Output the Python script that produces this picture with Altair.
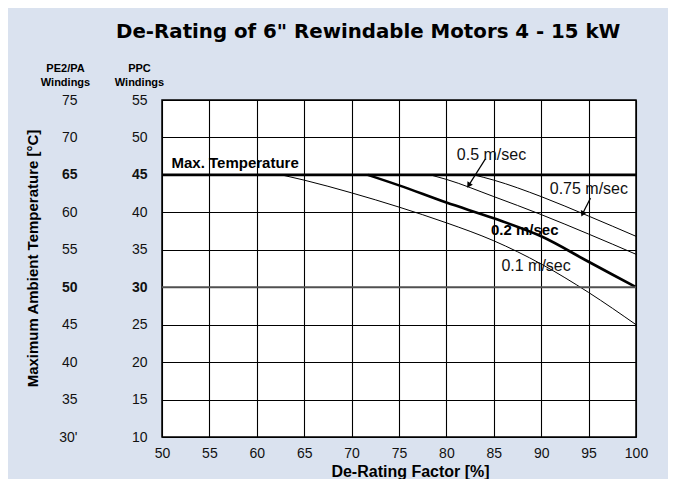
import altair as alt
import pandas as pd

# ---------------- data ----------------
x_ticks = [50, 55, 60, 65, 70, 75, 80, 85, 90, 95, 100]
y_ticks = [10, 15, 20, 25, 30, 35, 40, 45, 50, 55]   # PPC windings [°C]
pe_offset = 20                                      # PE2/PA = PPC + 20

v01_x = [62.6, 65, 70, 75, 80, 85, 90, 95, 100]
v01_y = [45, 44.3, 42.6, 40.7, 38.6, 36.2, 33.1, 29.3, 25.0]
v02_x = [71.7, 75, 80, 85, 90, 95, 100]
v02_y = [45, 43.6, 41.3, 39.2, 36.8, 33.4, 30.0]
v05_x = [78.3, 80, 85, 90, 95, 100]
v05_y = [45, 44.4, 42.1, 39.7, 37.1, 34.4]
v075_x = [82.9, 85, 90, 95, 100]
v075_y = [45, 44.3, 42.1, 39.5, 36.8]

max_temp = [45]
second_ref = [30]

label_text = ["Max. Temperature", "0.5 m/sec", "0.75 m/sec", "0.2 m/sec", "0.1 m/sec"]
label_x = [51.0, 81.1, 90.9, 84.7, 85.8]
label_y = [46.6, 47.7, 43.1, 37.6, 32.8]
label_bold = [True, False, False, True, False]

arrow_name = ["0.5 m/sec", "0.75 m/sec"]
arrow_tail_x = [84.1, 95.2]
arrow_tail_y = [47.1, 41.9]
arrow_head_x = [82.4, 94.4]
arrow_head_y = [43.7, 39.9]
arrow_angle = [213, 205]

# ---------------- tables ----------------
thin = pd.concat([
    pd.DataFrame({"x": v01_x, "y": v01_y, "s": "0.1"}),
    pd.DataFrame({"x": v05_x, "y": v05_y, "s": "0.5"}),
    pd.DataFrame({"x": v075_x, "y": v075_y, "s": "0.75"}),
])
thick = pd.DataFrame({"x": v02_x, "y": v02_y, "s": "0.2"})
labels = pd.DataFrame({"t": label_text, "x": label_x, "y": label_y, "b": label_bold})
arrows = pd.DataFrame({"n": arrow_name, "x": arrow_tail_x, "y": arrow_tail_y,
                       "x2": arrow_head_x, "y2": arrow_head_y, "a": arrow_angle})

FONT = "Liberation Sans"
bold_cond = {"condition": {"test": "datum.value == 45 || datum.value == 30", "value": "bold"},
             "value": "normal"}

xscale = alt.Scale(domain=[50, 100], nice=False, zero=False)
yscale = alt.Scale(domain=[10, 55], nice=False, zero=False)

x_axis = alt.Axis(values=x_ticks, title="De-Rating Factor [%]", domain=False, ticks=False,
                  orient="bottom",
                  labelFont=FONT, labelFontSize=14, labelColor="#111", labelPadding=9,
                  labelFlush=False,
                  grid=True, gridColor="#000", gridWidth=1.1, gridOpacity=1,
                  titleFont=FONT, titleFontSize=16, titleFontWeight="bold", titleColor="#000",
                  titleX=248, titleY=39, titleBaseline="alphabetic", titleAlign="center")

ppc_axis = alt.Axis(values=y_ticks, orient="left", title=["PPC", "Windings"], titleAngle=0,
                    titleX=-23, titleY=-29, titleAlign="center", titleBaseline="alphabetic",
                    titleFont=FONT, titleFontSize=11, titleFontWeight="bold", titleLineHeight=14,
                    titleColor="#000",
                    labelFont=FONT, labelFontSize=14, labelColor="#111", labelPadding=15,
                    labelFontWeight=bold_cond,
                    ticks=False, domain=False, grid=True, gridColor="#000", gridWidth=1.1,
                    gridOpacity=1)

pe_axis = alt.Axis(values=y_ticks, orient="left", offset=70,
                   labelExpr="datum.value == 10 ? \"30'\" : datum.value + " + str(pe_offset),
                   title=["PE2/PA", "Windings"], titleAngle=0,
                   titleX=-27, titleY=-29, titleAlign="center", titleBaseline="alphabetic",
                   titleFont=FONT, titleFontSize=11, titleFontWeight="bold", titleLineHeight=14,
                   titleColor="#000",
                   labelFont=FONT, labelFontSize=14, labelColor="#111", labelPadding=15,
                   labelFontWeight=bold_cond,
                   ticks=False, domain=False, grid=False)

title_axis = alt.Axis(values=y_ticks, orient="left", labels=False, ticks=False, domain=False,
                      grid=False,
                      title="Maximum Ambient Temperature [°C]", titleAngle=270,
                      titleX=-130, titleY=158, titleAlign="center", titleBaseline="middle",
                      titleFont=FONT, titleFontSize=15, titleFontWeight="bold", titleColor="#000")


def X(field):
    return alt.X(field, type="quantitative", scale=xscale, axis=x_axis)


def Y(field, axis):
    return alt.Y(field, type="quantitative", scale=yscale, axis=axis)


thin_lines = alt.Chart(thin).mark_line(color="#000", strokeWidth=1, interpolate="monotone").encode(
    x=X("x"), y=Y("y", ppc_axis), detail="s:N")

thick_line = alt.Chart(thick).mark_line(color="#000", strokeWidth=2.6, interpolate="monotone").encode(
    x=X("x"), y=Y("y", None), detail="s:N")

rule45 = alt.Chart(pd.DataFrame({"r": max_temp})).mark_rule(color="#000", strokeWidth=2.6).encode(
    y=Y("r", pe_axis))

rule30 = alt.Chart(pd.DataFrame({"r": second_ref})).mark_rule(color="#505050", strokeWidth=2).encode(
    y=Y("r", title_axis))

text_normal = alt.Chart(labels).transform_filter("!datum.b").mark_text(
    align="left", baseline="middle", font=FONT, fontSize=16, color="#111").encode(
    x=X("x"), y=Y("y", None), text="t:N")

text_bold = alt.Chart(labels).transform_filter("datum.b").mark_text(
    align="left", baseline="middle", font=FONT, fontSize=15, fontWeight="bold", color="#000").encode(
    x=X("x"), y=Y("y", None), text="t:N")

arrow_shafts = alt.Chart(arrows).mark_rule(color="#000", strokeWidth=1.2).encode(
    x=X("x"), y=Y("y", None), x2="x2", y2="y2")

arrow_heads = alt.Chart(arrows).mark_point(shape="triangle", filled=True, color="#000",
                                           size=40, opacity=1).encode(
    x=X("x2"), y=Y("y2", None), angle=alt.Angle("a:Q", scale=None))

chart = alt.layer(
    thin_lines, thick_line, rule45, rule30, text_normal, text_bold, arrow_shafts, arrow_heads
).resolve_scale(y="shared", x="shared").resolve_axis(y="independent", x="shared").properties(
    width=474, height=337,
    autosize=alt.AutoSizeParams(type="none"),
    padding={"left": 154, "top": 92, "right": 32, "bottom": 42},
    background="#dae2ef",
    title=alt.TitleParams(text='De-Rating of 6" Rewindable Motors 4 - 15 kW', anchor="start",
                          frame="group", dx=-46, font="DejaVu Sans", fontSize=19.8,
                          fontWeight="bold", color="#000", offset=20),
).configure_view(fill="white", stroke="#000", strokeWidth=1.5)

chart.save("out.html", embed_options={"renderer": "svg", "actions": False})
